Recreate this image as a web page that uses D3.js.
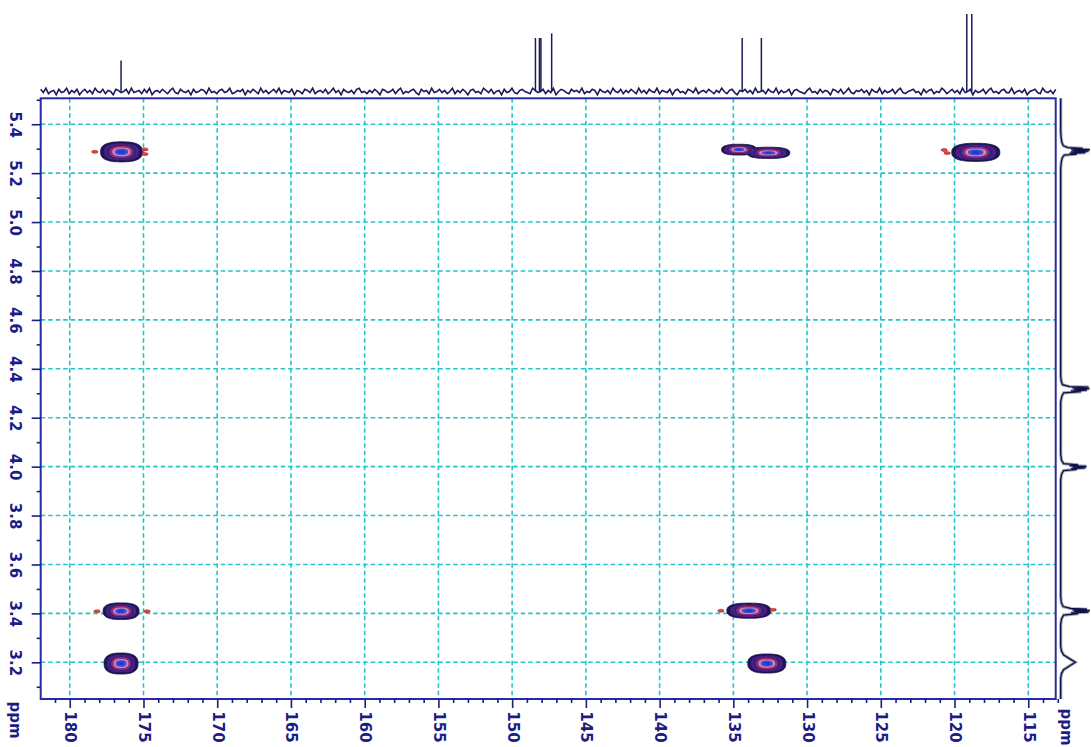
<!DOCTYPE html>
<html>
<head>
<meta charset="utf-8">
<script src="https://cdn.jsdelivr.net/npm/d3@7"></script>
<style>
  body { margin: 0; background: #fff; }
  text { font-family: "DejaVu Sans", Verdana, sans-serif; }
</style>
</head>
<body>
<svg id="chart" width="1091" height="747"></svg>
<script>
// ---- Data -------------------------------------------------------------
// 13C axis (ppm) and 1H axis (ppm)
const carbonTicks = [180, 175, 170, 165, 160, 155, 150, 145, 140, 135, 130, 125, 120, 115];
const protonTicks = [5.4, 5.2, 5.0, 4.8, 4.6, 4.4, 4.2, 4.0, 3.8, 3.6, 3.4, 3.2];

// 2D cross peaks: [13C ppm, 1H ppm, half-width 13C ppm, half-height 1H ppm]
const crossPeaks = [
  [176.49, 5.287, 1.42, 0.041],
  [134.62, 5.296, 1.18, 0.022],
  [132.62, 5.283, 1.45, 0.023],
  [118.56, 5.285, 1.63, 0.037],
  [176.52, 3.409, 1.22, 0.034],
  [176.52, 3.195, 1.15, 0.043],
  [133.95, 3.411, 1.49, 0.031],
  [132.73, 3.195, 1.29, 0.039]
];
// small t1-noise fragments beside the cross peaks: [13C ppm, 1H ppm]
const ridgeSpots = [
  [178.3, 5.287], [174.9, 5.297], [174.9, 5.278],
  [120.7, 5.295], [120.5, 5.282],
  [178.15, 3.409], [174.76, 3.409],
  [135.84, 3.411], [132.3, 3.415]
];

// 1D 13C projection: lines [ppm, relative height]
const carbonLines = [
  [176.52, 0.40], [148.42, 0.69], [148.15, 0.69], [148.05, 0.69], [147.32, 0.75],
  [134.40, 0.69], [133.10, 0.69], [119.17, 1.00], [118.83, 1.00]
];
// 13C baseline noise, evenly spaced across the spectral window
const carbonNoise = [2,-1,3,-2,0,1,-3,2,-1,0,3,-2,1,-1,2,-3,0,2,-1,1,-2,3,0,-1,2,-2,1,0,-3,2,1,-1,0,2,-2,3,-1,0,1,-2,2,-1,3,-3,0,1,-1,2,0,-2,1,3,-1,-2,2,0,-1,1,-3,2,-1,0,2,1,-2,3,-1,0,-2,1,2,-1,0,3,-2,-1,1,0,2,-3,1,-1,2,0,-2,3,-1,1,-2,0,2,-1,3,-2,1,0,-1,2,-3,1,0,-2,2,1,-1,3,-2,0,1,-1,2,-2,0,3,-1,1,-3,2,0,-1,1,-2,2,3,-1,0,-2,1,-1,2,0,-3,2,1,-1,0,2,-2,1,3,-2,0,-1,1,2,-1,-3,2,0,1,-2,3,-1,0,2,-1,1,-2,0,3,-2,1,-1,2,0,-3,1,2,-1,0,-2,3,1,-1,2,-2,0,1,-3,2,-1,0,3,-1,-2,1,2,0,-1,-2,3,1,-1,0,2,-2,1,-1,3,-3,0,2,1,-1,-2,2,0,1,-1,3,-2,0,-1,2,1,-3,2,0,-1,1,-2,3,0,-1,2,-2,1,-1,2,0,-2,3,-1,1,-2,2,0,-1,3,-2,1,0,-1,2,-3,1,2,-1,0,-2,2,1,-1,3,-2,0,1,
  -1,2,0,-2,1,-1,3,0,-2,1,2,-1,-3,1,0,2,-1,1,-2,3,-1,0,1,-2,2,0,-1,3,-2,1,-1,0,2,-3,1,2,0,-1,-2,1,3,-1,0,-2,2,-1,1,0,-3,2,1,-1,2,-2,0,3,-1,-2,1,0,2,-1,1,-3,2,0,-1,3,-2,1,-1,0,2,-2,1,3,-1,-2,0,1,2,-1,0,-3,2,-1,1,2,-2,0,-1,3,1,-2,0,2,-1,1,-2,3,-1,0,2,-3,1,-1,0,2,-2,1,3,-1,0,-2,1,2,-1,-1,3,-2,0,1,-1,2,-3,0,1,2,-1,-2,3,0,-1,1,-2,2];

// 1D 1H projection: [ppm, relative intensity]
const protonTrace = [
  [5.506, 0],
  [5.37, 0], [5.345, 0.015], [5.325, 0.04], [5.312, 0.09], [5.304, 0.25], [5.301, 0.75], [5.299, 0.35],
  [5.296, 1.0], [5.293, 0.4], [5.290, 0.95], [5.287, 0.35], [5.284, 0.85], [5.281, 0.3], [5.278, 0.55],
  [5.274, 0.12], [5.262, 0.05], [5.245, 0.02], [5.22, 0],
  [4.37, 0], [4.35, 0.02], [4.335, 0.06], [4.327, 0.3], [4.325, 0.95], [4.322, 0.4], [4.319, 0.98],
  [4.316, 0.45], [4.313, 0.9], [4.310, 0.35], [4.307, 0.7], [4.302, 0.1], [4.288, 0.04], [4.265, 0],
  [4.05, 0], [4.025, 0.03], [4.012, 0.1], [4.007, 0.6], [4.004, 0.3], [4.001, 0.88], [3.998, 0.4],
  [3.995, 0.85], [3.992, 0.35], [3.989, 0.55], [3.984, 0.1], [3.97, 0.03], [3.945, 0],
  [3.47, 0], [3.445, 0.02], [3.428, 0.08], [3.42, 0.35], [3.417, 0.9], [3.414, 0.4], [3.411, 1.0],
  [3.408, 0.45], [3.405, 0.95], [3.402, 0.35], [3.399, 0.6], [3.393, 0.1], [3.378, 0.03], [3.355, 0],
  [3.265, 0], [3.245, 0.03], [3.23, 0.1], [3.215, 0.3], [3.2, 0.5], [3.185, 0.3], [3.17, 0.1],
  [3.155, 0.03], [3.135, 0],
  [3.05, 0]
];

// ---- Layout -----------------------------------------------------------
const frame = { left: 40.7, right: 1055.7, top: 98.3, bottom: 699 };
const ink = "#1c1c86";
const gridColor = "#22c6c8";

const svg = d3.select("#chart");

const x = d3.scaleLinear().domain([181.97, 113.14]).range([frame.left, frame.right]);
const y = d3.scaleLinear().domain([5.506, 3.05]).range([frame.top, frame.bottom]);
const carbonY = d3.scaleLinear().domain([0, 1]).range([91.5, 14]);
const protonX = d3.scaleLinear().domain([0, 1]).range([1060.7, 1090]);

// ---- Grid -------------------------------------------------------------
const grid = svg.append("g").attr("stroke", gridColor).attr("stroke-width", 1.6)
  .attr("stroke-dasharray", "4.5,3");
grid.selectAll("line.v").data(carbonTicks).join("line").attr("class", "v")
  .attr("x1", d => x(d)).attr("x2", d => x(d))
  .attr("y1", frame.top).attr("y2", frame.bottom);
grid.selectAll("line.h").data(protonTicks).join("line").attr("class", "h")
  .attr("x1", frame.left).attr("x2", frame.right)
  .attr("y1", d => y(d)).attr("y2", d => y(d));

// ---- Cross-peak contours ----------------------------------------------
// each peak keeps its own rings (max), so overlapping peaks stay distinct
const W = Math.round(frame.right - frame.left);
const H = Math.round(frame.bottom - frame.top);
const field = new Float64Array(W * H);
const shapeExp = 2.6;
crossPeaks.forEach(([cx, cy, sx, sy]) => {
  const px = x(cx) - frame.left, py = y(cy) - frame.top;
  const rx = Math.abs(x(cx + sx) - x(cx)), ry = Math.abs(y(cy + sy) - y(cy));
  const i0 = Math.max(0, Math.floor(px - 3 * rx)), i1 = Math.min(W - 1, Math.ceil(px + 3 * rx));
  const j0 = Math.max(0, Math.floor(py - 3 * ry)), j1 = Math.min(H - 1, Math.ceil(py + 3 * ry));
  for (let j = j0; j <= j1; j++) {
    const v = Math.abs((j + 0.5 - py) / ry);
    for (let i = i0; i <= i1; i++) {
      const u = Math.abs((i + 0.5 - px) / rx);
      const k = j * W + i;
      field[k] = Math.max(field[k], Math.exp(-(Math.pow(u, shapeExp) + Math.pow(v, shapeExp))));
    }
  }
});
const radii = [1.0, 0.84, 0.68, 0.55, 0.44, 0.32, 0.18];
const levelFill = ["#20145a", "#4b1e80", "#2a2480", "#86288a", "#d487b2", "#3a52e2", "#2338c8"];
const levels = radii.map(r => Math.exp(-Math.pow(r, shapeExp)));
const contours = d3.contours().size([W, H]).thresholds(levels)(field);
svg.append("g").attr("transform", `translate(${frame.left},${frame.top})`)
  .selectAll("path").data(contours).join("path")
  .attr("d", d3.geoPath())
  .attr("fill", (d, i) => levelFill[i])
  .attr("stroke", (d, i) => i === 0 ? "#170d45" : (i === 3 ? "#c0304a" : "none"))
  .attr("stroke-width", 0.8);

svg.append("g").selectAll("ellipse").data(ridgeSpots).join("ellipse")
  .attr("cx", d => x(d[0])).attr("cy", d => y(d[1]))
  .attr("rx", 3.2).attr("ry", 1.5)
  .attr("fill", "#d9473a").attr("stroke", "#9c2525").attr("stroke-width", 0.5);

// ---- Frame ------------------------------------------------------------
svg.append("rect")
  .attr("x", frame.left).attr("y", frame.top)
  .attr("width", frame.right - frame.left).attr("height", frame.bottom - frame.top)
  .attr("fill", "none").attr("stroke", "#2a2aa6").attr("stroke-width", 2);

// ---- Axes -------------------------------------------------------------
const minorC = d3.range(113, 182, 1).filter(v => v % 5 !== 0);
const minorH = d3.range(31, 56, 1).map(v => v / 10).filter(v => Math.round(v * 10) % 2 !== 0);

const axB = svg.append("g").attr("transform", `translate(0,${frame.bottom})`)
  .call(d3.axisBottom(x).tickValues(carbonTicks).tickSize(9).tickFormat(d3.format("d")));
svg.append("g").attr("transform", `translate(0,${frame.bottom})`)
  .call(d3.axisBottom(x).tickValues(minorC).tickSize(4).tickFormat(""));
const axL = svg.append("g").attr("transform", `translate(${frame.left},0)`)
  .call(d3.axisLeft(y).tickValues(protonTicks).tickSize(9).tickFormat(d3.format(".1f")));
svg.append("g").attr("transform", `translate(${frame.left},0)`)
  .call(d3.axisLeft(y).tickValues(minorH).tickSize(4).tickFormat(""));

svg.selectAll(".domain").remove();
svg.selectAll(".tick line").attr("stroke", ink).attr("stroke-width", 1.6);

const labelStyle = sel => sel
  .attr("text-anchor", "middle").attr("dominant-baseline", "central")
  .attr("fill", ink).attr("font-size", 15).attr("font-weight", "bold");

axB.selectAll(".tick text")
  .attr("y", 0).attr("dy", null)
  .attr("transform", "translate(0,28) rotate(90)")
  .call(labelStyle);
axL.selectAll(".tick text")
  .attr("x", 0).attr("dy", null)
  .attr("transform", "translate(-26,0) rotate(90)")
  .call(labelStyle);

// unit labels
[[15, 720], [1066, 727]].forEach(([tx, ty]) => {
  svg.append("text").text("ppm")
    .attr("transform", `translate(${tx},${ty}) rotate(90)`)
    .call(labelStyle);
});

// ---- 1D 13C projection (top) ------------------------------------------
const noiseStep = (x.domain()[0] - x.domain()[1]) / (carbonNoise.length - 1);
const noisePts = carbonNoise.map((n, i) => [x.domain()[0] - i * noiseStep, n * 0.014]);
svg.append("path").datum(noisePts)
  .attr("d", d3.line().x(d => x(d[0])).y(d => carbonY(d[1])))
  .attr("fill", "none").attr("stroke", "#1b1b5c").attr("stroke-width", 1.6);
svg.append("g").selectAll("line").data(carbonLines).join("line")
  .attr("x1", d => x(d[0])).attr("x2", d => x(d[0]))
  .attr("y1", carbonY(0)).attr("y2", d => carbonY(d[1]))
  .attr("stroke", "#1b1b5c").attr("stroke-width", 1.5);

// ---- 1D 1H projection (right) -----------------------------------------
const protonLine = d3.line().x(d => protonX(d[1])).y(d => y(d[0]));
svg.append("path").datum(protonTrace).attr("d", protonLine)
  .attr("fill", "none").attr("stroke", "#a6a6b8").attr("stroke-width", 3.2);
svg.append("path").datum(protonTrace).attr("d", protonLine)
  .attr("fill", "none").attr("stroke", "#10104a").attr("stroke-width", 1.3);
</script>
</body>
</html>
